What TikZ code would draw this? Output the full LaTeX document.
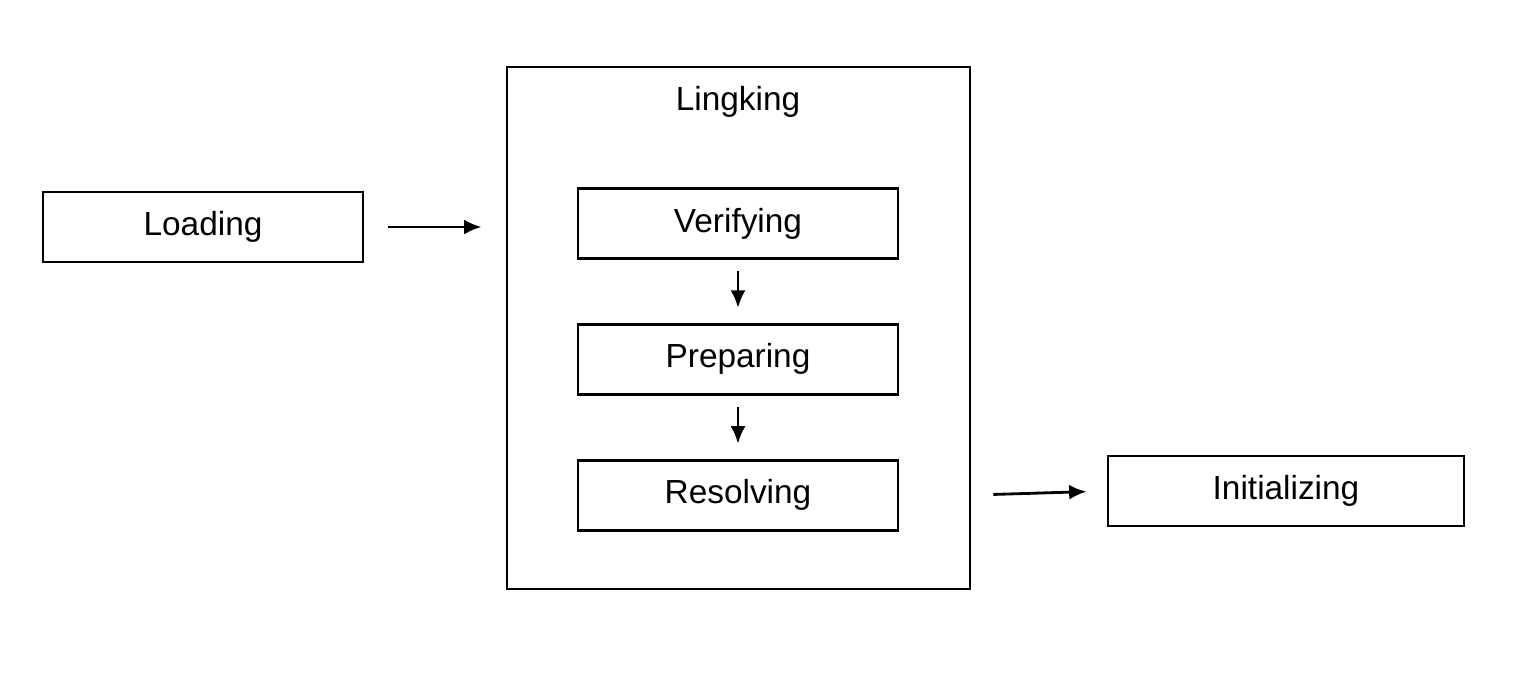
\documentclass[tikz,border=0pt]{standalone}
\usepackage{fontspec}
\setmainfont{Liberation Sans}
\usetikzlibrary{arrows.meta,positioning}
\tikzset{%
  >={Latex[width=3mm,length=3.5mm]},
  % box styles
  base/.style = {rectangle, draw=black, line width=1.6pt,
                 minimum width=6.4cm, minimum height=1.4cm,
                 text centered, font=\fontsize{19}{22}\selectfont},
  phase/.style = {base},
  wide/.style = {base, minimum width=7.12cm},
}
\begin{document}
\begin{tikzpicture}[line width=1.6pt]
    \useasboundingbox (0,0) rectangle (30.6,-13.72);

    \node (link) [draw=black, line width=1.6pt, minimum width=9.26cm, minimum height=10.44cm] at (14.77,-6.56) {};
    \node (title) [font=\fontsize{19}{22}\selectfont] at (14.76,-2.04) {Lingking};

    \node (load) [phase] at (4.06,-4.54) {Loading};
    \node (verify) [phase] at (14.76,-4.47) {Verifying};
    \node (prepare) [phase, below = 1.26cm of verify] {Preparing};
    \node (resolve) [phase, below = 1.26cm of prepare] {Resolving};
    \node (init) [wide] at (25.72,-9.82) {Initializing};

    \draw [->, shorten <=0.48cm, shorten >=0.48cm] (load.east) -- (load.east -| link.west);
    \draw [->, shorten <=0.22cm, shorten >=0.3cm] (verify) -- (prepare);
    \draw [->, shorten <=0.22cm, shorten >=0.3cm] (prepare) -- (resolve);
    \draw [->, shorten <=0.44cm, shorten >=0.4cm] (resolve.east -| link.east) -- (init.west);
\end{tikzpicture}
\end{document}
